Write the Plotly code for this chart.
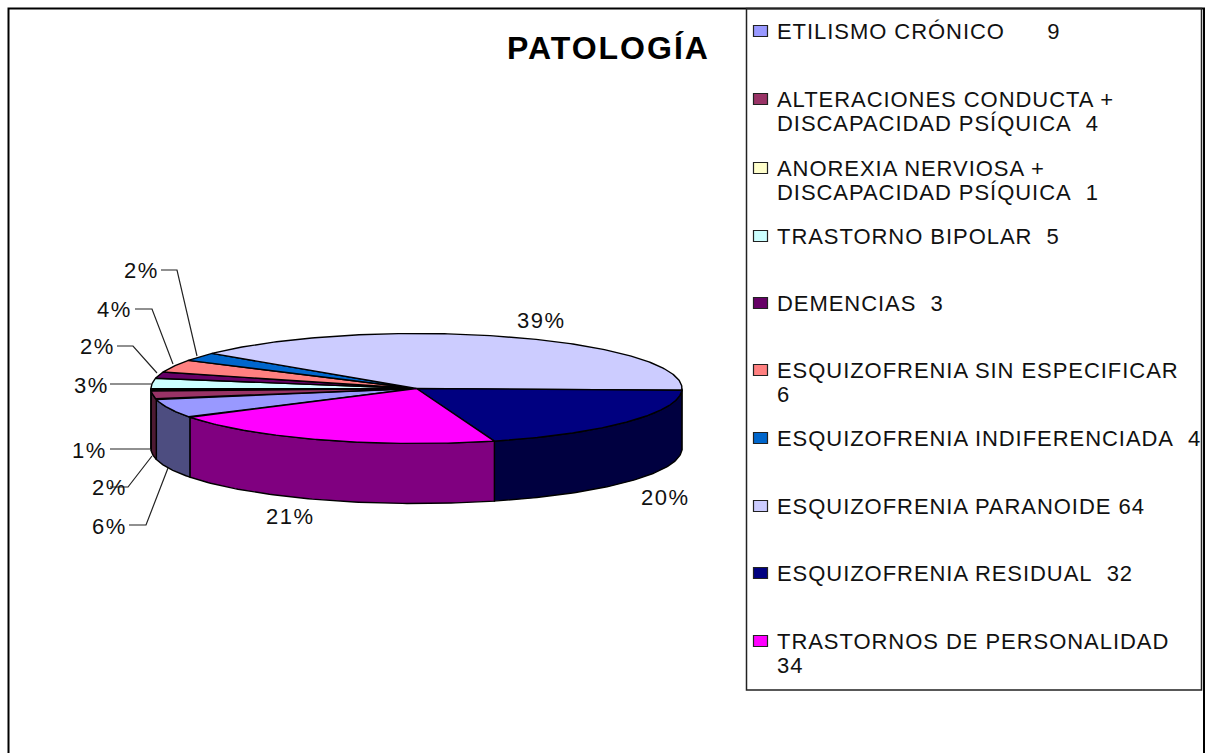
import numpy as np
import plotly.graph_objects as go

# ---- data -------------------------------------------------------------
legend_lines = [
    ["ETILISMO CRÓNICO      9"],
    ["ALTERACIONES CONDUCTA +", "DISCAPACIDAD PSÍQUICA  4"],
    ["ANOREXIA NERVIOSA +", "DISCAPACIDAD PSÍQUICA  1"],
    ["TRASTORNO BIPOLAR  5"],
    ["DEMENCIAS  3"],
    ["ESQUIZOFRENIA SIN ESPECIFICAR", "6"],
    ["ESQUIZOFRENIA INDIFERENCIADA  4"],
    ["ESQUIZOFRENIA PARANOIDE 64"],
    ["ESQUIZOFRENIA RESIDUAL  32"],
    ["TRASTORNOS DE PERSONALIDAD", "34"],
]
values = [9, 4, 1, 5, 3, 6, 4, 64, 32, 34]
percent_labels = ["6%", "2%", "1%", "3%", "2%", "4%", "2%", "39%", "20%", "21%"]
top_colors = ["#9999FF", "#993366", "#FFFFCC", "#CCFFFF", "#660066",
              "#FF8080", "#0066CC", "#CCCCFF", "#000080", "#FF00FF"]
side_colors = ["#4D4D80", "#4D1A33", "#808066", "#668080", "#330033",
               "#804040", "#003366", "#666680", "#000040", "#800080"]

# ---- pie geometry (pixel-like plot coordinates) --------------------------
CX, CY, RX, RY, DEPTH = 416.5, 388.5, 265.5, 55.0, 60.0
FIRST_ANGLE = 148.5            # clockwise from 3 o'clock
label_pos = [(109, 526), (109, 487), (89, 450), (91, 385), (97, 346),
             (114, 309), (141, 270), (541, 320), (665, 497), (290, 516)]
leaders = {
    0: [(129, 525), (146, 525), (168, 468)],
    1: [(110, 487), (128, 487), (152, 456)],
    2: [(110, 449), (150, 449)],
    3: [(110, 384), (151, 384)],
    4: [(117, 346), (133, 346), (157, 373)],
    5: [(135, 309), (152, 309), (173, 364)],
    6: [(161, 270), (177, 270), (197, 356)],
}
legend_y = [31, 99, 168, 236, 303, 370, 438, 506, 573, 641]
LINE_H = 24

total = sum(values)
edges = FIRST_ANGLE + np.concatenate([[0], np.cumsum(values)]) * 360.0 / total

fig = go.Figure()


def ell(t_deg, dy=0.0):
    t = np.radians(t_deg)
    return CX + RX * np.cos(t), CY + RY * np.sin(t) + dy


# side walls: only the front half of the rim (0..180 deg, taken modulo 360)
for i, (a, b) in enumerate(zip(edges[:-1], edges[1:])):
    for shift in (0, -360):
        lo, hi = max(a + shift, 0), min(b + shift, 180)
        if hi <= lo:
            continue
        t = np.linspace(lo, hi, 80)
        x1, y1 = ell(t)
        x2, y2 = ell(t[::-1], DEPTH)
        fig.add_trace(go.Scatter(
            x=np.r_[x1, x2, x1[0]], y=np.r_[y1, y2, y1[0]], mode="lines",
            fill="toself", fillcolor=side_colors[i],
            line=dict(color="black", width=1.4), hoverinfo="skip"))

# top face
for i, (a, b) in enumerate(zip(edges[:-1], edges[1:])):
    t = np.linspace(a, b, 200)
    x1, y1 = ell(t)
    fig.add_trace(go.Scatter(
        x=np.r_[CX, x1, CX], y=np.r_[CY, y1, CY], mode="lines",
        fill="toself", fillcolor=top_colors[i],
        line=dict(color="black", width=1.4), hoverinfo="skip"))

# leader lines
for pts in leaders.values():
    xs, ys = zip(*pts)
    fig.add_trace(go.Scatter(x=xs, y=ys, mode="lines",
                             line=dict(color="#222222", width=1.2), hoverinfo="skip"))

annotations = []
FONT = "Liberation Sans, Arial, sans-serif"


def spaced(text, px):
    return f'<span style="letter-spacing:{px}px">{text}</span>'


for txt, (x, y) in zip(percent_labels, label_pos):
    annotations.append(dict(x=x, y=y, text=spaced(txt, 1.5), showarrow=False, xanchor="center",
                            yanchor="middle", font=dict(family=FONT, size=22, color="#111111")))

annotations.append(dict(x=608.5, y=48, text=spaced("<b>PATOLOGÍA</b>", 2), showarrow=False,
                        xanchor="center", yanchor="middle",
                        font=dict(family=FONT, size=32, color="black")))

shapes = [
    dict(type="rect", x0=8.5, y0=8.5, x1=1204, y1=790, line=dict(color="black", width=2)),
    dict(type="rect", x0=746.5, y0=8.5, x1=1201.5, y1=690, line=dict(color="#222222", width=1.5)),
]
for lines, yc, col in zip(legend_lines, legend_y, top_colors):
    shapes.append(dict(type="rect", x0=753.5, x1=767.5, y0=yc - 5.5, y1=yc + 5.5,
                       fillcolor=col, line=dict(color="#222222", width=1.2)))
    for k, line in enumerate(lines):
        annotations.append(dict(x=775, y=yc + k * LINE_H,
                                text=spaced(line.replace("  ", "\u00a0\u00a0"), 0.95),
                                showarrow=False, xanchor="left", yanchor="middle",
                                font=dict(family=FONT, size=22, color="#111111")))

fig.update_layout(
    width=1205, height=753, margin=dict(l=0, r=0, t=0, b=0),
    paper_bgcolor="white", plot_bgcolor="white", showlegend=False,
    xaxis=dict(range=[0, 1205], visible=False, fixedrange=True),
    yaxis=dict(range=[753, 0], visible=False, fixedrange=True),
    annotations=annotations, shapes=shapes,
)
fig.write_html("out.html", post_script="document.body.style.margin='0';",
               config={"displayModeBar": False})
